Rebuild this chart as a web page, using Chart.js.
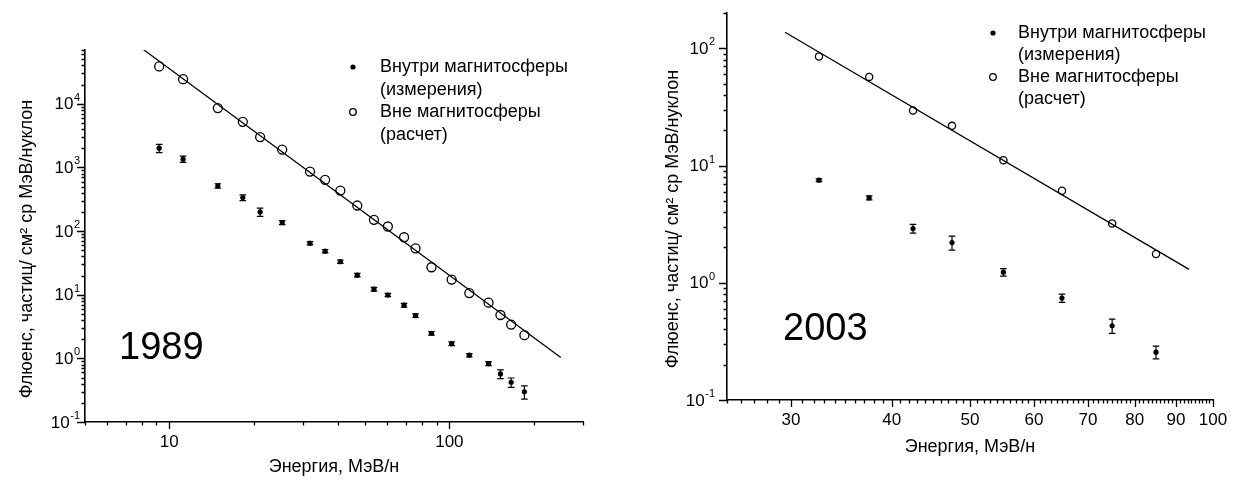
<!DOCTYPE html>
<html>
<head>
    <meta charset="utf-8">
    <title>Флюенс частиц, 1989 и 2003</title>
    <script src="https://cdn.jsdelivr.net/npm/chart.js@4.4.0/dist/chart.umd.min.js"></script>
    <style>
        body {
            margin: 0;
            background: #fff;
            font-family: "Liberation Sans", Arial, sans-serif;
        }
        .wrap { position: relative; width: 1243px; height: 482px; }
        .box { position: absolute; top: 0; height: 482px; }
        #box1989 { left: 0; width: 620px; }
        #box2003 { left: 620px; width: 623px; }
    </style>
</head>
<body>
    <div class="wrap">
        <div class="box" id="box1989"><canvas id="chart1989"></canvas></div>
        <div class="box" id="box2003"><canvas id="chart2003"></canvas></div>
    </div>

    <script>
        const energy1989 = [9.2, 11.2, 14.9, 18.3, 21.1, 25.3, 31.8, 36.0, 40.8, 46.9, 53.8, 60.3, 68.9, 75.7, 86.3, 101.9, 117.8, 138, 152.2, 166.2, 185.3];
        const outside1989 = [38600, 24400, 8560, 5210, 3000, 1910, 862, 638, 433, 252, 150, 118, 80, 53.5, 27, 17.3, 10.6, 7.5, 4.8, 3.4, 2.31];
        const inside1989 = [2010, 1350, 514, 336, 200, 136, 64.5, 48.3, 33.1, 20.3, 12.2, 9.9, 6.84, 4.69, 2.48, 1.70, 1.12, 0.826, 0.569, 0.421, 0.299];
        const insideErr1989 = [300, 150, 40, 35, 30, 10, 4, 3, 2, 1.3, 0.8, 0.6, 0.45, 0.3, 0.16, 0.11, 0.07, 0.06, 0.09, 0.07, 0.07];
        const fitEnergy1989 = [8.1, 250];
        const fitFlux1989 = [70600, 1.03];
        const xTicks1989 = [10, 100];
        const yTicks1989 = [0.1, 1, 10, 100, 1000, 10000];

        // ---- 2003 ----
        const energy2003 = [32.5, 37.5, 42.5, 47.5, 55, 65, 75, 85];
        const outside2003 = [85, 57, 29.5, 21.8, 11.1, 6.1, 3.2, 1.76];
        const inside2003 = [7.5, 5.3, 2.9, 2.2, 1.23, 0.74, 0.43, 0.256];
        const insideErr2003 = [0.2, 0.2, 0.25, 0.3, 0.09, 0.06, 0.06, 0.032];
        const fitEnergy2003 = [29.5, 93.4];
        const fitFlux2003 = [137, 1.30];
        const xTicks2003 = [30, 40, 50, 60, 70, 80, 90, 100];
        const yTicks2003 = [0.1, 1, 10, 100];

        const legendLines = ['Внутри магнитосферы', '(измерения)', 'Вне магнитосферы', '(расчет)'];
        const yTitle = 'Флюенс, частиц/ см² ср МэВ/нуклон';
        const xTitle = 'Энергия, МэВ/н';

        const FONT = '"Liberation Sans", Arial, sans-serif';

        // minor tick helpers (axis decoration only)
        function logMinor(min, max) {
            const out = [];
            for (let d = Math.floor(Math.log10(min)); d <= Math.ceil(Math.log10(max)); d++) {
                for (let k = 2; k <= 9; k++) {
                    const v = k * Math.pow(10, d);
                    if (v >= min * 0.999 && v <= max * 1.001) out.push(v);
                }
            }
            return out;
        }
        function intMinor(min, max) {
            const out = [];
            for (let v = min; v <= max; v++) out.push(v);
            return out;
        }

        const zip = (xs, ys) => xs.map((x, i) => ({ x: x, y: ys[i] }));

        // ticks drawn by hand so major/minor can have different lengths,
        // y labels drawn as 10 + raised exponent
        const axisTicks = {
            id: 'axisTicks',
            afterDraw(chart, args, o) {
                const { ctx, chartArea } = chart;
                const xs = chart.scales.x, ys = chart.scales.y;
                ctx.save();
                ctx.strokeStyle = '#000';
                ctx.lineWidth = 1.3;
                ctx.beginPath();
                const xt = (v, len) => {
                    const px = Math.round(xs.getPixelForValue(v)) + 0.5;
                    ctx.moveTo(px, chartArea.bottom);
                    ctx.lineTo(px, chartArea.bottom + len);
                };
                const yt = (v, len) => {
                    const py = Math.round(ys.getPixelForValue(v)) + 0.5;
                    ctx.moveTo(chartArea.left, py);
                    ctx.lineTo(chartArea.left - len, py);
                };
                o.xMinor.forEach(v => xt(v, 3.5));
                o.yMinor.forEach(v => yt(v, 3.5));
                xs.ticks.forEach(t => xt(t.value, 7));
                ys.ticks.forEach(t => yt(t.value, 8));
                ctx.stroke();

                ctx.fillStyle = '#000';
                ctx.textAlign = 'right';
                ctx.textBaseline = 'middle';
                ys.ticks.forEach(t => {
                    const py = ys.getPixelForValue(t.value);
                    const exp = String(Math.round(Math.log10(t.value)));
                    const xr = chartArea.left - o.labelGap;
                    ctx.font = '11px ' + FONT;
                    const w = ctx.measureText(exp).width;
                    ctx.fillText(exp, xr, py - 6);
                    ctx.font = '17px ' + FONT;
                    ctx.fillText('10', xr - w - 0.5, py + 1);
                });

                // rotated y title
                ctx.translate(o.yTitleX, o.yTitleY);
                ctx.rotate(-Math.PI / 2);
                ctx.textAlign = 'center';
                ctx.font = '18px ' + FONT;
                ctx.fillText(yTitle, 0, 0);
                ctx.restore();
            }
        };

        const errorBars = {
            id: 'errorBars',
            afterDatasetsDraw(chart, args, o) {
                const { ctx } = chart;
                const xs = chart.scales.x, ys = chart.scales.y;
                const ds = chart.data.datasets[o.dataset];
                ctx.save();
                ctx.strokeStyle = '#000';
                ctx.lineWidth = 1.2;
                ctx.beginPath();
                ds.data.forEach((p, i) => {
                    const e = o.errors[i];
                    const px = xs.getPixelForValue(p.x);
                    const top = ys.getPixelForValue(p.y + e);
                    const bot = ys.getPixelForValue(p.y - e);
                    ctx.moveTo(px, top); ctx.lineTo(px, bot);
                    ctx.moveTo(px - o.cap, top); ctx.lineTo(px + o.cap, top);
                    ctx.moveTo(px - o.cap, bot); ctx.lineTo(px + o.cap, bot);
                });
                ctx.stroke();
                ctx.restore();
            }
        };

        // legend block and the year label
        const notes = {
            id: 'notes',
            afterDraw(chart, args, o) {
                const { ctx } = chart;
                ctx.save();
                ctx.fillStyle = '#000';
                ctx.strokeStyle = '#000';
                ctx.textBaseline = 'middle';
                ctx.textAlign = 'left';
                ctx.font = '18px ' + FONT;
                legendLines.forEach((s, i) => ctx.fillText(s, o.textX, o.rows[i]));
                ctx.beginPath();
                ctx.arc(o.markerX, o.rows[0], 2.6, 0, Math.PI * 2);
                ctx.fill();
                ctx.beginPath();
                ctx.lineWidth = 1.3;
                ctx.arc(o.markerX, o.rows[2], 3.3, 0, Math.PI * 2);
                ctx.stroke();
                ctx.font = '38px ' + FONT;
                ctx.fillText(o.year, o.yearX, o.yearY);
                ctx.restore();
            }
        };

        function makeChart(id, cfg) {
            return new Chart(document.getElementById(id), {
                type: 'scatter',
                data: {
                    datasets: [
                        {
                            label: 'fit',
                            data: zip(cfg.fitX, cfg.fitY),
                            showLine: true,
                            borderColor: '#000',
                            borderWidth: 1.3,
                            pointRadius: 0
                        },
                        {
                            label: 'Вне магнитосферы (расчет)',
                            data: zip(cfg.energy, cfg.outside),
                            pointStyle: 'circle',
                            pointRadius: cfg.openR,
                            borderWidth: 1.3,
                            borderColor: '#000',
                            backgroundColor: 'rgba(0,0,0,0)'
                        },
                        {
                            label: 'Внутри магнитосферы (измерения)',
                            data: zip(cfg.energy, cfg.inside),
                            pointStyle: 'circle',
                            pointRadius: 2.6,
                            borderWidth: 0,
                            backgroundColor: '#000'
                        }
                    ]
                },
                options: {
                    responsive: true,
                    maintainAspectRatio: false,
                    animation: false,
                    layout: { padding: cfg.padding },
                    scales: {
                        x: {
                            type: 'logarithmic',
                            position: 'bottom',
                            min: cfg.xMin,
                            max: cfg.xMax,
                            afterBuildTicks: s => { s.ticks = cfg.xTicks.map(v => ({ value: v })); },
                            afterFit: s => { s.height = cfg.xHeight; },
                            ticks: {
                                callback: v => String(v),
                                color: '#000',
                                font: { family: FONT, size: 17 },
                                padding: 10,
                                maxRotation: 0,
                                autoSkip: false
                            },
                            grid: { display: false, drawTicks: false },
                            border: { display: true, color: '#000', width: 1.6 },
                            title: {
                                display: true,
                                text: xTitle,
                                color: '#000',
                                font: { family: FONT, size: 18 },
                                padding: { top: 0, bottom: cfg.xTitlePad }
                            }
                        },
                        y: {
                            type: 'logarithmic',
                            min: cfg.yMin,
                            max: cfg.yMax,
                            afterBuildTicks: s => { s.ticks = cfg.yTicks.map(v => ({ value: v })); },
                            afterFit: s => { s.width = cfg.yWidth; },
                            ticks: { display: false },
                            grid: { display: false, drawTicks: false },
                            border: { display: true, color: '#000', width: 1.6 }
                        }
                    },
                    plugins: {
                        legend: { display: false },
                        tooltip: { enabled: false },
                        axisTicks: {
                            xMinor: cfg.xMinor, yMinor: logMinor(cfg.yMin, cfg.yMax),
                            labelGap: cfg.labelGap, yTitleX: cfg.yTitleX, yTitleY: cfg.yTitleY
                        },
                        errorBars: { dataset: 2, errors: cfg.errors, cap: 3.3 },
                        notes: cfg.notes
                    }
                },
                plugins: [errorBars, axisTicks, notes]
            });
        }

        try {
            makeChart('chart1989', {
                energy: energy1989, outside: outside1989, inside: inside1989, errors: insideErr1989,
                fitX: fitEnergy1989, fitY: fitFlux1989,
                xMin: 5, xMax: 300, yMin: 0.1, yMax: 70000,
                xTicks: xTicks1989, yTicks: yTicks1989, xMinor: logMinor(5, 300),
                padding: { top: 50, right: 37, bottom: 0, left: 0 },
                xHeight: 60, yWidth: 85, xTitlePad: 4, openR: 4.5,
                labelGap: 5, yTitleX: 27, yTitleY: 249,
                notes: { markerX: 353, textX: 380, rows: [67, 90, 112, 135], year: '1989', yearX: 119, yearY: 349 }
            });
            makeChart('chart2003', {
                energy: energy2003, outside: outside2003, inside: inside2003, errors: insideErr2003,
                fitX: fitEnergy2003, fitY: fitFlux2003,
                xMin: 25, xMax: 100, yMin: 0.1, yMax: 200,
                xTicks: xTicks2003, yTicks: yTicks2003, xMinor: intMinor(25, 100),
                padding: { top: 13, right: 30, bottom: 0, left: 0 },
                xHeight: 82, yWidth: 107, xTitlePad: 24, openR: 3.6,
                labelGap: 12, yTitleX: 53, yTitleY: 219,
                notes: { markerX: 373, textX: 398, rows: [33, 55, 77, 99], year: '2003', yearX: 163, yearY: 330 }
            });
        } catch (error) {
            console.error('Error rendering charts:', error);
        }
    </script>
</body>
</html>
